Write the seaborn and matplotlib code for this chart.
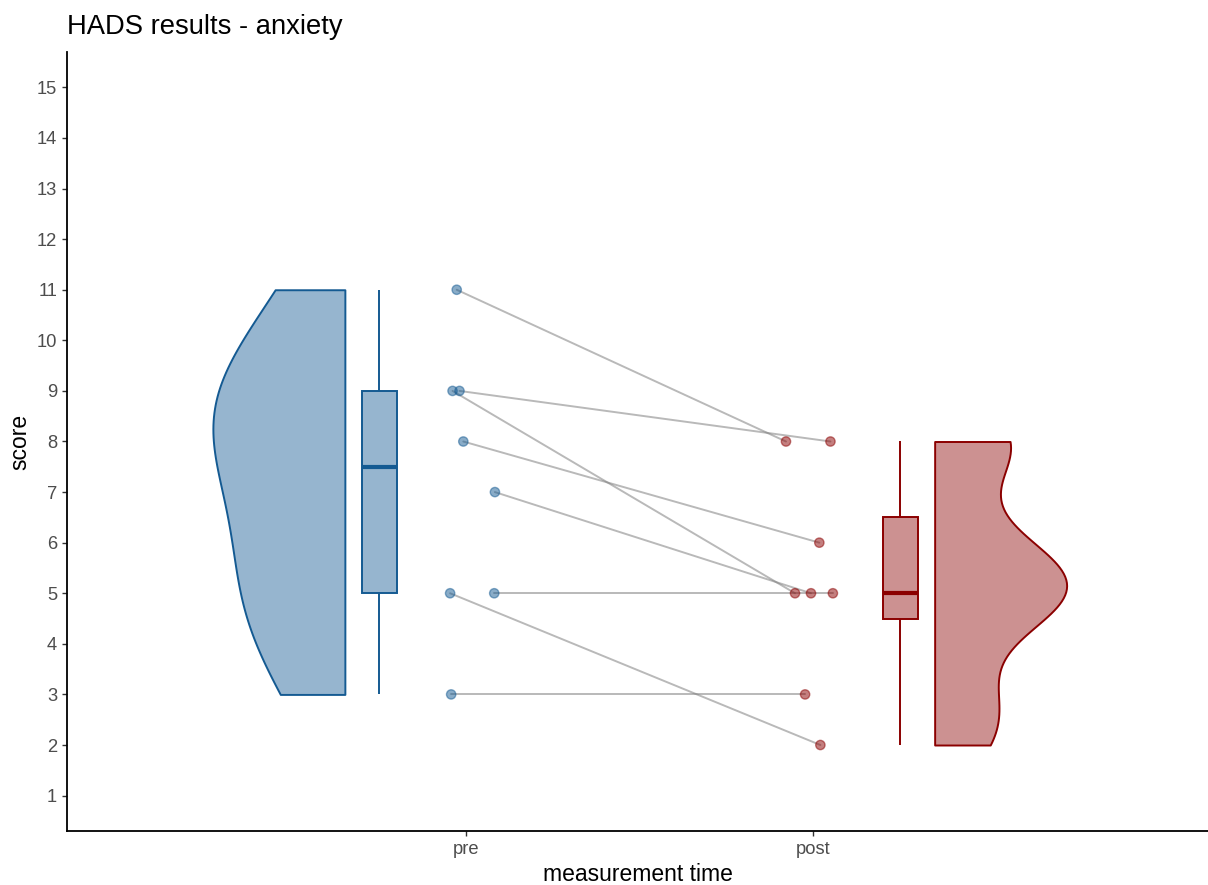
import numpy as np
import pandas as pd
import seaborn as sns
import matplotlib.pyplot as plt

# --- Data ---
subjects = [1, 2, 3, 4, 5, 6, 7, 8]
times = ["pre", "post"]
pre_scores = [11, 9, 9, 8, 7, 5, 5, 3]
post_scores = [8, 8, 5, 6, 5, 5, 2, 3]
# horizontal jitter of the raw points, as seen in the picture
pre_jitter = [-0.027, -0.019, -0.039, -0.008, 0.083, 0.081, -0.046, -0.043]
post_jitter = [-0.079, 0.049, -0.053, 0.017, -0.007, 0.056, 0.020, -0.024]
y_ticks = list(range(1, 16))

# --- Styles ---
line_colors = {"pre": "#145A92", "post": "#8B0000"}
fill_colors = {"pre": "#96B5CF", "post": "#CC9191"}
time_pos = {"pre": 0.0, "post": 1.0}
side = {"pre": -1, "post": 1}
CLOUD_W = 0.38  # max width of a half violin (data units)


def nrd0_adjust(values):
    """bw_adjust that turns scott's rule into R's bw.nrd0"""
    v = np.asarray(values, dtype=float)
    sd = v.std(ddof=1)
    iqr = np.subtract(*np.percentile(v, [75, 25]))
    return 0.9 * min(sd, iqr / 1.34) / sd


n = len(subjects)
df = pd.DataFrame({
    "subject": subjects * 2,
    "time": ["pre"] * n + ["post"] * n,
    "score": pre_scores + post_scores,
    "jitter": pre_jitter + post_jitter,
})
df["xj"] = df["time"].map(time_pos) + df["jitter"]

sns.set_theme(style="ticks")
plt.rcParams["font.family"] = ["Liberation Sans", "DejaVu Sans"]

fig, ax = plt.subplots(figsize=(12.08, 8.85), dpi=100)
fig.subplots_adjust(left=67 / 1208, right=1.0, bottom=1 - 831 / 885, top=1 - 52 / 885)

# --- Clouds and boxes ---
for t in times:
    # split violin in seaborn: flat side sits at pos -/+ width/2
    sub = df[df["time"] == t].assign(
        cloud_x=time_pos[t] + side[t] * (0.349 + CLOUD_W / 2),
        box_x=time_pos[t] + side[t] * 0.25,
    )
    sns.violinplot(data=sub, x="cloud_x", y="score", hue="time", hue_order=times,
                   palette=fill_colors, saturation=1, split=True, native_scale=True,
                   inner=None, cut=0, bw_adjust=nrd0_adjust(sub["score"]),
                   density_norm="width", width=CLOUD_W, linecolor=line_colors[t],
                   linewidth=1.4, legend=False, ax=ax)
    sns.boxplot(data=sub, x="box_x", y="score", native_scale=True, width=0.1,
                color=fill_colors[t], saturation=1, linecolor=line_colors[t],
                linewidth=1.4, whis=np.inf, showcaps=False, fliersize=0,
                medianprops=dict(linewidth=3), ax=ax)

# --- Paired lines and raw points ---
sns.lineplot(data=df, x="xj", y="score", units="subject", estimator=None,
             color="#808080", alpha=0.55, linewidth=1.4, legend=False, ax=ax)
sns.scatterplot(data=df, x="xj", y="score", hue="time", palette=line_colors,
                alpha=0.5, s=45, edgecolor="face", linewidth=1, legend=False,
                zorder=5, ax=ax)

# --- Axes ---
ax.set_xlim(-1.149, 2.136)
ax.set_ylim(0.3, 15.7)
ax.set_xticks([time_pos[t] for t in times])
ax.set_xticklabels(times)
ax.set_yticks(y_ticks)
ax.tick_params(length=3.6, width=1, color="#333333", labelcolor="#4D4D4D",
               labelsize=13.2, pad=3.5)
for s in ["left", "bottom"]:
    ax.spines[s].set_linewidth(1.3)
    ax.spines[s].set_color("black")
sns.despine(ax=ax)

ax.set_xlabel("measurement time", fontsize=16.5, color="black")
ax.set_ylabel("score", fontsize=16.5, color="black")
ax.set_title("HADS results - anxiety", loc="left", fontsize=19.7, pad=13,
             color="black")

plt.savefig("out.png", dpi=100)
